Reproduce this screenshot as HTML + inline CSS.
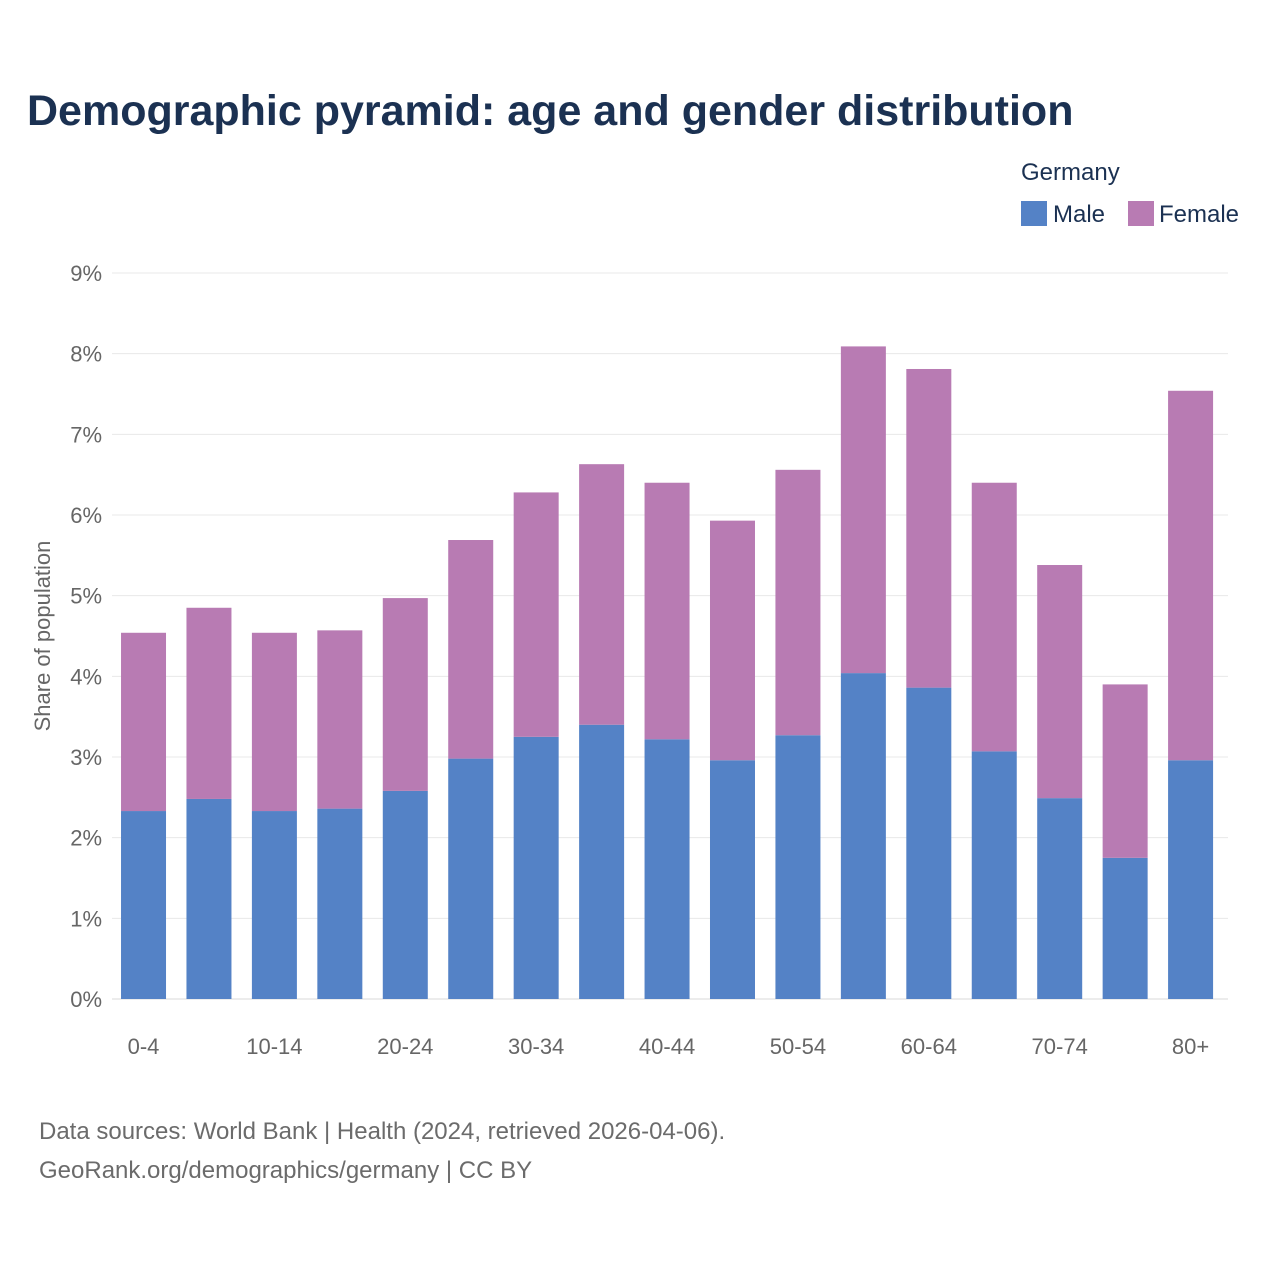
<!DOCTYPE html>
<html><head><meta charset="utf-8">
<style>
body{margin:0;background:#fff;width:1280px;height:1280px;overflow:hidden;font-family:"Liberation Sans",sans-serif;}
</style></head>
<body>
<svg id="chart" width="1280" height="1280" xmlns="http://www.w3.org/2000/svg">
<text x="27" y="125" font-size="43" font-weight="bold" fill="#1b3152" font-family="Liberation Sans, sans-serif">Demographic pyramid: age and gender distribution</text>
<text x="1021" y="180" font-size="24" fill="#1b3152">Germany</text>
<g><rect x="1021" y="201" width="26" height="25" fill="#5482c6"/><text x="1053" y="222" font-size="24" fill="#1b3152">Male</text></g>
<g><rect x="1128" y="201" width="26" height="25" fill="#b87bb3"/><text x="1159" y="222" font-size="24" fill="#1b3152">Female</text></g>
<text transform="translate(50,636) rotate(-90)" text-anchor="middle" font-size="22" fill="#666">Share of population</text>
<g id="grid"></g><g id="bars"></g><g id="ticks"></g>
<text x="39" y="1139" font-size="24" fill="#6b6b6b">Data sources: World Bank | Health (2024, retrieved 2026-04-06).</text>
<text x="39" y="1178" font-size="24" fill="#6b6b6b">GeoRank.org/demographics/germany | CC BY</text>
</svg>
<script>
const categories=["0-4","5-9","10-14","15-19","20-24","25-29","30-34","35-39","40-44","45-49","50-54","55-59","60-64","65-69","70-74","75-79","80+"];
const maleValues=[2.33,2.48,2.33,2.36,2.58,2.98,3.25,3.40,3.22,2.96,3.27,4.04,3.86,3.07,2.49,1.75,2.96];
const femaleValues=[2.21,2.37,2.21,2.21,2.39,2.71,3.03,3.23,3.18,2.97,3.29,4.05,3.95,3.33,2.89,2.15,4.58];
const yTicks=[0,1,2,3,4,5,6,7,8,9];
const NS="http://www.w3.org/2000/svg";
const gx0=112,gx1=1228;
const x0=110.8,x1=1223.3,yBase=999,yTop=273,yMax=9;
const band=(x1-x0)/categories.length,bw=45;
const y=v=>yBase-(v/yMax)*(yBase-yTop);
const xc=i=>x0+band*(i+0.5);
function mk(tag,attrs,parent){const e=document.createElementNS(NS,tag);for(const k in attrs)e.setAttribute(k,attrs[k]);parent.appendChild(e);return e;}
const grid=document.getElementById('grid'),bars=document.getElementById('bars'),ticks=document.getElementById('ticks');
yTicks.forEach(t=>{
  const l=mk('line',{x1:gx0,x2:gx1,y1:y(t),y2:y(t),stroke:t===0?'#d8d8d8':'#e8e8e8','stroke-width':1},grid);
  
  
  const tx=mk('text',{x:102,y:y(t)+8,'text-anchor':'end','font-size':22,fill:'#666'},ticks);
  tx.textContent=t+'%';
  
  
});
categories.forEach((c,i)=>{
  const m=maleValues[i],f=femaleValues[i];
  const r1=mk('rect',{x:xc(i)-bw/2,y:y(m),width:bw,height:yBase-y(m),fill:'#5482c6'},bars);
  
  
  const r2=mk('rect',{x:xc(i)-bw/2,y:y(m+f),width:bw,height:y(m)-y(m+f),fill:'#b87bb3'},bars);
  
  
  if(i%2===0){
    const tx=mk('text',{x:xc(i),y:1054,'text-anchor':'middle','font-size':22,fill:'#666'},ticks);
    tx.textContent=c;
    
    
  }
});
</script>
</body></html>
